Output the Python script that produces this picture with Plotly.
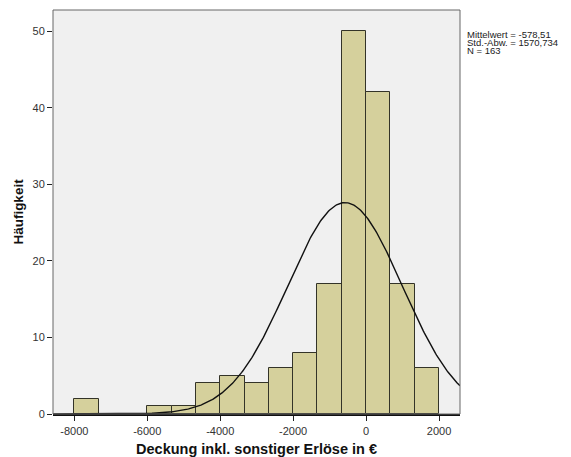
import numpy as np
import plotly.graph_objects as go

# Histogram data (bin width = 2000/3)
bin_lefts = [-8000, -7333.33, -6666.67, -6000, -5333.33, -4666.67, -4000, -3333.33,
             -2666.67, -2000, -1333.33, -666.67, 0, 666.67, 1333.33]
counts = [2, 0, 0, 1, 1, 4, 5, 4, 6, 8, 17, 50, 42, 17, 6]
bin_width = 2000 / 3

mean_val = -578.51
sd_val = 1570.734
n_val = 163

x_tick_vals = [-8000, -6000, -4000, -2000, 0, 2000]
y_tick_vals = [0, 10, 20, 30, 40, 50]

x_range = [-8585, 2575]
y_range = [0, 52.75]

bx = [l + bin_width / 2 for l, c in zip(bin_lefts, counts) if c > 0]
by = [c for c in counts if c > 0]

fig = go.Figure()
fig.add_trace(go.Bar(
    x=bx, y=by, width=[bin_width] * len(by),
    marker=dict(color="#d5d09c", line=dict(color="#333328", width=1)),
    hoverinfo="x+y", showlegend=False,
))

# Normal curve from the reported mean / SD / N
xs = np.linspace(x_range[0], x_range[1], 400)
ys = n_val * bin_width / (sd_val * np.sqrt(2 * np.pi)) * np.exp(-0.5 * ((xs - mean_val) / sd_val) ** 2)
fig.add_trace(go.Scatter(x=xs, y=ys, mode="lines", line=dict(color="#111111", width=1.4),
                         showlegend=False, hoverinfo="skip"))

font_fam = "Liberation Sans, Arial, sans-serif"

fig.update_layout(
    width=571, height=457,
    margin=dict(l=53, r=111, t=10, b=43),
    paper_bgcolor="white", plot_bgcolor="#f0f0f0",
    bargap=0,
    font=dict(family=font_fam, size=11, color="#333333"),
    xaxis=dict(range=x_range, tickvals=x_tick_vals,
               ticktext=[str(v) for v in x_tick_vals],
               ticks="outside", ticklen=5, tickwidth=1, tickcolor="#222222",
               ticklabelstandoff=1, automargin=False,
               showgrid=False, zeroline=False,
               showline=True, linecolor="#111111", linewidth=2,
               tickfont=dict(size=11, color="#333333"),
               title=dict(text="<b>Deckung inkl. sonstiger Erlöse in €</b>",
                          font=dict(size=14.5, color="#111111"), standoff=9)),
    yaxis=dict(range=y_range, tickvals=y_tick_vals,
               ticks="outside", ticklen=5, tickwidth=1, tickcolor="#222222",
               ticklabelstandoff=0, automargin=False,
               showgrid=False, zeroline=False, showline=False,
               tickfont=dict(size=11, color="#333333"),
               title=dict(text="<b>Häufigkeit</b>",
                          font=dict(size=13.5, color="#111111"), standoff=5)),
    shapes=[dict(type="rect", xref="x domain", yref="y domain", x0=0, x1=1, y0=0, y1=1,
                 line=dict(color="#666666", width=1), layer="above")],
)

stat_lines = ["Mittelwert = -578,51", "Std.-Abw. = 1570,734", "N = 163"]
for i, t in enumerate(stat_lines):
    fig.add_annotation(text=t, xref="paper", yref="paper", x=1.0, xshift=6,
                       y=1.0, yshift=-(24 + 8.3 * i), xanchor="left", yanchor="middle",
                       borderpad=0,
                       showarrow=False, font=dict(size=9.5, color="#222222", family=font_fam))

fig.write_html("out.html")
